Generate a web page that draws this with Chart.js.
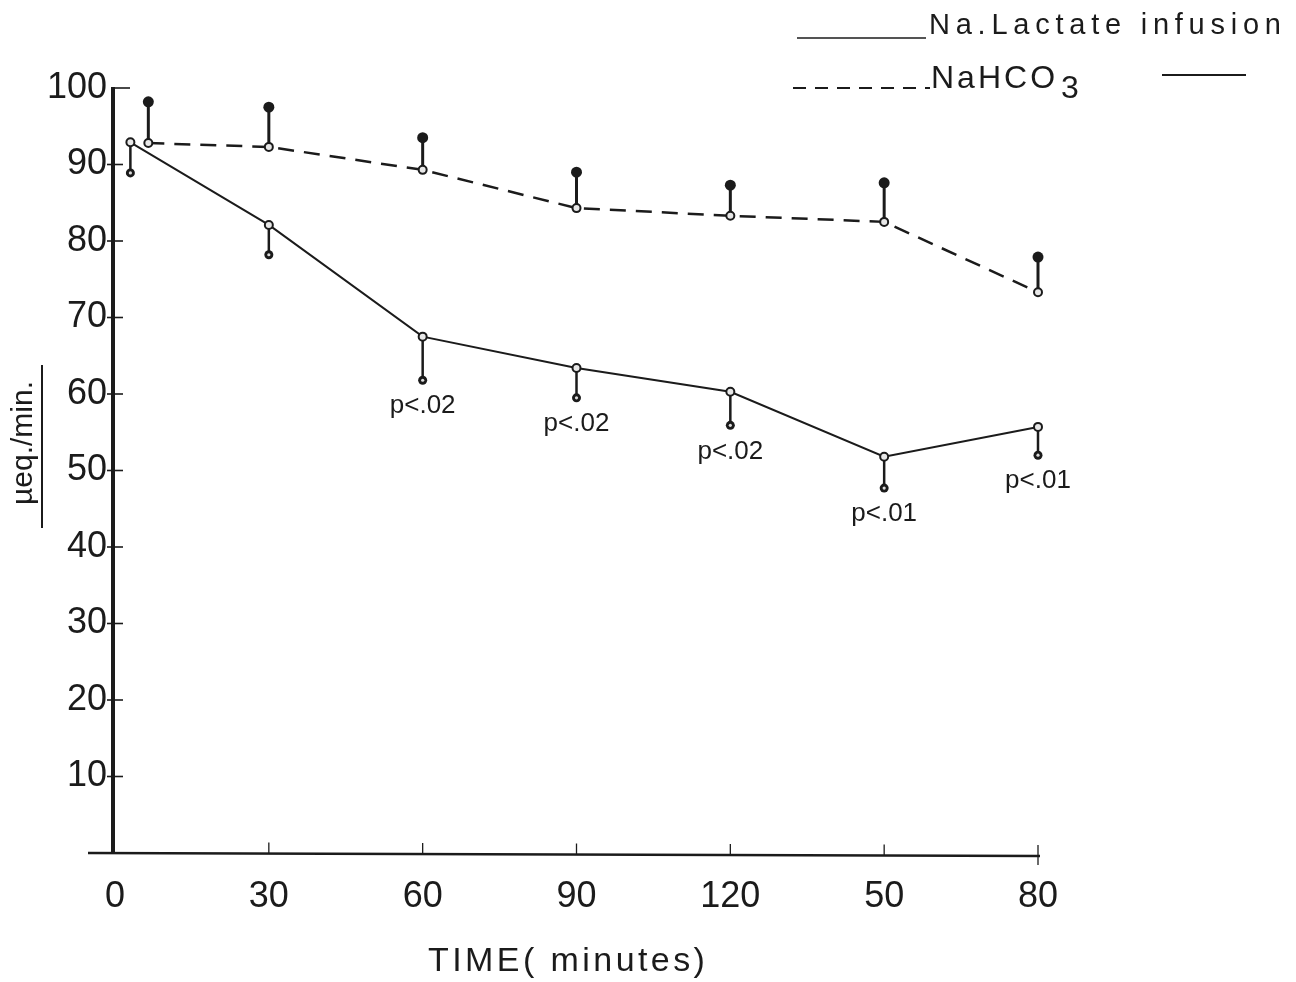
<!DOCTYPE html>
<html><head><meta charset="utf-8">
<script src="https://cdn.jsdelivr.net/npm/chart.js@4.4.1/dist/chart.umd.min.js"></script>
<style>html,body{margin:0;padding:0;background:#fff;}canvas{display:block}</style>
</head><body>
<canvas id="c" width="1296" height="982"></canvas>
<script>
// ---- data ----
const tickValues = [0, 30, 60, 90, 120, 150, 180];
const tickLabels = ["0", "30", "60", "90", "120", "50", "80"];
const yTickValues = [10, 20, 30, 40, 50, 60, 70, 80, 90, 100];

const lactateTimes = [3, 30, 60, 90, 120, 150, 180];
const lactateMeans = [92.9, 82.1, 67.5, 63.4, 60.3, 51.8, 55.7];
const lactateLower = [88.9, 78.2, 61.8, 59.5, 55.9, 47.7, 52.0];

const bicarbTimes = [6.5, 30, 60, 90, 120, 150, 180];
const bicarbMeans = [92.8, 92.3, 89.3, 84.3, 83.3, 82.5, 73.3];
const bicarbUpper = [98.2, 97.5, 93.5, 89.0, 87.3, 87.6, 77.9];

const pLabels = ["", "", "p<.02", "p<.02", "p<.02", "p<.01", "p<.01"];

const legendLactate = "Na.Lactate infusion";
const legendBicarb = "NaHCO";
const legendBicarbSub = "3";
const yTitle = "µeq./min.";
const xTitle = "TIME( minutes)";

const ink = "#1b1b1b";
const FONT = '"Liberation Sans", Arial, sans-serif';

function fitText(ctx, text, x, y, width) {
  ctx.letterSpacing = '0px';
  const w = ctx.measureText(text).width;
  const sp = Math.max(0, (width - w) / (text.length - 1));
  ctx.letterSpacing = sp.toFixed(2) + 'px';
  ctx.fillText(text, x, y);
  ctx.letterSpacing = '0px';
}

const decor = {
  id: 'decor',
  beforeDatasetsDraw(chart) {
    const {ctx, scales: {x, y}} = chart;
    ctx.save();
    ctx.strokeStyle = ink; ctx.fillStyle = ink;
    const x0 = x.getPixelForValue(0), y0 = y.getPixelForValue(0);
    ctx.lineWidth = 4;
    ctx.beginPath(); ctx.moveTo(x0 - 2, y.getPixelForValue(100) - 1); ctx.lineTo(x0 - 2, y0 + 1); ctx.stroke();
    ctx.lineWidth = 2.5;
    ctx.beginPath(); ctx.moveTo(88, y0); ctx.lineTo(x.getPixelForValue(180) + 2, y0 + 3); ctx.stroke();
    ctx.lineWidth = 1.6;
    yTickValues.forEach(v => {
      const py = y.getPixelForValue(v);
      ctx.beginPath();
      if (v === 100) { ctx.moveTo(x0 - 2, py); ctx.lineTo(x0 + 15, py); }
      else { ctx.moveTo(x0 - 8, py); ctx.lineTo(x0 + 8, py); }
      ctx.stroke();
    });
    ctx.lineWidth = 1.3;
    tickValues.forEach(v => {
      if (v === 0) return;
      const px = x.getPixelForValue(v);
      const base = y0 + (v / 180) * 3;
      ctx.beginPath(); ctx.moveTo(px, base - 11); ctx.lineTo(px, base + (v === 180 ? 9 : 0)); ctx.stroke();
    });
    ctx.lineWidth = 2.5;
    lactateTimes.forEach((t, i) => {
      const px = x.getPixelForValue(t);
      ctx.beginPath(); ctx.moveTo(px, y.getPixelForValue(lactateMeans[i])); ctx.lineTo(px, y.getPixelForValue(lactateLower[i])); ctx.stroke();
    });
    ctx.lineWidth = 3;
    bicarbTimes.forEach((t, i) => {
      const px = x.getPixelForValue(t);
      ctx.beginPath(); ctx.moveTo(px, y.getPixelForValue(bicarbMeans[i])); ctx.lineTo(px, y.getPixelForValue(bicarbUpper[i])); ctx.stroke();
    });
    ctx.restore();
  },
  afterDatasetsDraw(chart) {
    const {ctx, scales: {x, y}} = chart;
    ctx.save();
    ctx.strokeStyle = ink; ctx.fillStyle = ink;
    lactateTimes.forEach((t, i) => {
      const px = x.getPixelForValue(t), py = y.getPixelForValue(lactateLower[i]);
      ctx.beginPath(); ctx.arc(px, py, 4.5, 0, Math.PI * 2); ctx.fillStyle = ink; ctx.fill();
      ctx.beginPath(); ctx.arc(px, py, 1.6, 0, Math.PI * 2); ctx.fillStyle = '#ddd'; ctx.fill();
    });
    ctx.fillStyle = ink;
    bicarbTimes.forEach((t, i) => {
      const px = x.getPixelForValue(t), py = y.getPixelForValue(bicarbUpper[i]);
      ctx.beginPath(); ctx.arc(px, py, 5.5, 0, Math.PI * 2); ctx.fill();
    });
    ctx.font = '26px ' + FONT;
    ctx.textAlign = 'center'; ctx.textBaseline = 'middle';
    pLabels.forEach((s, i) => {
      if (!s) return;
      ctx.fillText(s, x.getPixelForValue(lactateTimes[i]), y.getPixelForValue(lactateLower[i]) + 26);
    });
    ctx.save();
    ctx.translate(24, 443);
    ctx.rotate(-Math.PI / 2);
    ctx.font = '30px ' + FONT;
    ctx.textAlign = 'center'; ctx.textBaseline = 'middle';
    ctx.fillText(yTitle, 0, 0);
    ctx.restore();
    ctx.lineWidth = 2;
    ctx.beginPath(); ctx.moveTo(42, 365); ctx.lineTo(42, 528); ctx.stroke();
    ctx.font = '34px ' + FONT;
    ctx.textAlign = 'left'; ctx.textBaseline = 'middle';
    fitText(ctx, xTitle, 428, 962, 277);
    ctx.textBaseline = 'alphabetic';
    ctx.lineWidth = 1.6;
    ctx.beginPath(); ctx.moveTo(797, 38); ctx.lineTo(926, 38); ctx.stroke();
    ctx.font = '29px ' + FONT;
    fitText(ctx, legendLactate, 929, 34, 352);
    ctx.lineWidth = 1.8;
    ctx.setLineDash([13, 9]);
    ctx.beginPath(); ctx.moveTo(793, 88); ctx.lineTo(930, 88); ctx.stroke();
    ctx.setLineDash([]);
    ctx.font = '32px ' + FONT;
    fitText(ctx, legendBicarb, 931, 88, 124);
    ctx.fillText(legendBicarbSub, 1061, 98);
    ctx.lineWidth = 2;
    ctx.beginPath(); ctx.moveTo(1162, 75); ctx.lineTo(1246, 75); ctx.stroke();
    ctx.restore();
  }
};

new Chart(document.getElementById('c'), {
  type: 'line',
  data: {
    datasets: [
      {
        label: 'Na.Lactate infusion',
        data: lactateTimes.map((t, i) => ({x: t, y: lactateMeans[i]})),
        borderColor: ink, borderWidth: 2, clip: false,
        pointRadius: 4, pointBorderWidth: 2,
        pointBackgroundColor: '#e8e8e8', pointBorderColor: ink,
        tension: 0
      },
      {
        label: 'NaHCO3',
        data: bicarbTimes.map((t, i) => ({x: t, y: bicarbMeans[i]})),
        borderColor: ink, borderWidth: 2.5, borderDash: [16, 10], clip: false,
        pointRadius: 4, pointBorderWidth: 2,
        pointBackgroundColor: '#e8e8e8', pointBorderColor: ink,
        tension: 0
      }
    ]
  },
  options: {
    responsive: false,
    animation: false,
    events: [],
    layout: {padding: {left: 0, right: 258, top: 88, bottom: 0}},
    plugins: {legend: {display: false}, tooltip: {enabled: false}},
    scales: {
      x: {
        type: 'linear', min: 0, max: 180,
        afterBuildTicks: s => { s.ticks = tickValues.map(v => ({value: v})); },
        afterFit: s => { s.height = 129; },
        grid: {display: false, drawTicks: false},
        border: {display: false},
        ticks: {
          padding: 22, color: ink, maxRotation: 0, autoSkip: false,
          font: {family: FONT, size: 36},
          callback: v => tickLabels[tickValues.indexOf(v)]
        }
      },
      y: {
        min: 0, max: 100,
        afterBuildTicks: s => { s.ticks = yTickValues.map(v => ({value: v})); },
        afterFit: s => { s.width = 115; },
        grid: {display: false, drawTicks: false},
        border: {display: false},
        ticks: {padding: 8, color: ink, font: {family: FONT, size: 36}}
      }
    }
  },
  plugins: [decor]
});
</script>
</body></html>
